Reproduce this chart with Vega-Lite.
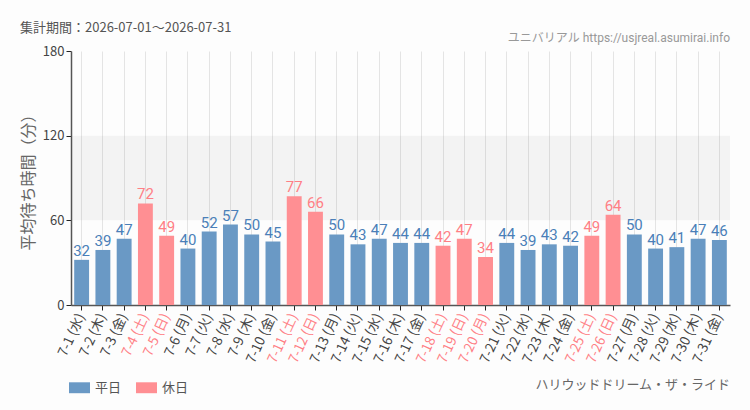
{
  "$schema": "https://vega.github.io/schema/vega-lite/v6.json",
  "autosize": {"type": "none"},
  "padding": {"left": 71, "top": 51, "right": 20, "bottom": 105},
  "width": 659,
  "height": 254,
  "background": "#fdfdfd",
  "config": {
    "font": "Noto Sans CJK JP",
    "view": {"stroke": null}
  },
  "title": {
    "text": "集計期間：2026-07-01～2026-07-31",
    "anchor": "start",
    "frame": "group",
    "dx": -51,
    "dy": 17,
    "offset": 14,
    "fontSize": 13,
    "fontWeight": "normal",
    "color": "#555555"
  },
  "data": {
    "values": [
      {"day": "7-1 (水)", "wait": 32, "kind": "平日"},
      {"day": "7-2 (木)", "wait": 39, "kind": "平日"},
      {"day": "7-3 (金)", "wait": 47, "kind": "平日"},
      {"day": "7-4 (土)", "wait": 72, "kind": "休日"},
      {"day": "7-5 (日)", "wait": 49, "kind": "休日"},
      {"day": "7-6 (月)", "wait": 40, "kind": "平日"},
      {"day": "7-7 (火)", "wait": 52, "kind": "平日"},
      {"day": "7-8 (水)", "wait": 57, "kind": "平日"},
      {"day": "7-9 (木)", "wait": 50, "kind": "平日"},
      {"day": "7-10 (金)", "wait": 45, "kind": "平日"},
      {"day": "7-11 (土)", "wait": 77, "kind": "休日"},
      {"day": "7-12 (日)", "wait": 66, "kind": "休日"},
      {"day": "7-13 (月)", "wait": 50, "kind": "平日"},
      {"day": "7-14 (火)", "wait": 43, "kind": "平日"},
      {"day": "7-15 (水)", "wait": 47, "kind": "平日"},
      {"day": "7-16 (木)", "wait": 44, "kind": "平日"},
      {"day": "7-17 (金)", "wait": 44, "kind": "平日"},
      {"day": "7-18 (土)", "wait": 42, "kind": "休日"},
      {"day": "7-19 (日)", "wait": 47, "kind": "休日"},
      {"day": "7-20 (月)", "wait": 34, "kind": "休日"},
      {"day": "7-21 (火)", "wait": 44, "kind": "平日"},
      {"day": "7-22 (水)", "wait": 39, "kind": "平日"},
      {"day": "7-23 (木)", "wait": 43, "kind": "平日"},
      {"day": "7-24 (金)", "wait": 42, "kind": "平日"},
      {"day": "7-25 (土)", "wait": 49, "kind": "休日"},
      {"day": "7-26 (日)", "wait": 64, "kind": "休日"},
      {"day": "7-27 (月)", "wait": 50, "kind": "平日"},
      {"day": "7-28 (火)", "wait": 40, "kind": "平日"},
      {"day": "7-29 (水)", "wait": 41, "kind": "平日"},
      {"day": "7-30 (木)", "wait": 47, "kind": "平日"},
      {"day": "7-31 (金)", "wait": 46, "kind": "平日"}
    ]
  },
  "layer": [
    {
      "mark": {"type": "rect", "color": "#000000", "opacity": 0.04},
      "encoding": {
        "y": {"datum": 60, "type": "quantitative", "scale": {"domain": [0, 180]}},
        "y2": {"datum": 120}
      },
      "data": {"values": [{}]}
    },
    {
      "mark": {"type": "bar"},
      "encoding": {
        "x": {
          "field": "day",
          "type": "nominal",
          "sort": null,
          "scale": {"paddingInner": 0.3, "paddingOuter": 0.15},
          "axis": {
            "title": null,
            "labelAngle": -65,
            "labelFontSize": 13.5,
            "labelPadding": 4,
            "labelColor": {
              "condition": {"test": "indexof(['7-4 (土)','7-5 (日)','7-11 (土)','7-12 (日)','7-18 (土)','7-19 (日)','7-20 (月)','7-25 (土)','7-26 (日)'], datum.value) >= 0", "value": "#ff7f85"},
              "value": "#444444"
            },
            "tickColor": "#222222",
            "tickSize": 5,
            "domainColor": "#555555",
            "domainWidth": 1.5,
            "grid": true,
            "gridColor": "#e4e4e4"
          }
        },
        "y": {
          "field": "wait",
          "type": "quantitative",
          "scale": {"domain": [0, 180]},
          "axis": {
            "title": "平均待ち時間（分）",
            "titleFontSize": 16,
            "titleFontWeight": "normal",
            "titleColor": "#666666",
            "titlePadding": 6,
            "values": [0, 60, 120, 180],
            "labelFontSize": 13,
            "labelColor": "#444444",
            "tickColor": "#222222",
            "tickSize": 5,
            "domainColor": "#555555",
            "domainWidth": 1.5,
            "gridColor": "#e4e4e4"
          }
        },
        "color": {
          "field": "kind",
          "type": "nominal",
          "scale": {"domain": ["平日", "休日"], "range": ["#6a99c5", "#ff8f93"]},
          "legend": {
            "title": null,
            "orient": "none",
            "direction": "horizontal",
            "legendX": -2,
            "legendY": 326,
            "symbolType": "M-1,-0.52H1V0.52H-1Z",
            "symbolSize": 441,
            "symbolStrokeWidth": 0,
            "symbolOpacity": 1,
            "labelFontSize": 13,
            "labelColor": "#555555",
            "columnPadding": 14,
            "labelOffset": 5
          }
        }
      }
    },
    {
      "mark": {"type": "text", "baseline": "bottom", "dy": -1, "fontSize": 15, "font": "Roboto"},
      "encoding": {
        "x": {"field": "day", "type": "nominal", "sort": null},
        "y": {"field": "wait", "type": "quantitative"},
        "text": {"field": "wait", "type": "quantitative"},
        "color": {
          "condition": {"test": "datum.kind == '休日'", "value": "#ff7f85"},
          "value": "#4a7fb8"
        }
      }
    },
    {
      "data": {"values": [{"t": "ユニバリアル  https://usjreal.asumirai.info"}]},
      "mark": {"type": "text", "align": "right", "baseline": "bottom", "x": {"expr": "width"}, "y": -6, "fontSize": 12, "color": "#999999", "font": "Roboto, Noto Sans CJK JP"},
      "encoding": {"text": {"field": "t", "type": "nominal"}}
    },
    {
      "data": {"values": [{"t": "ハリウッドドリーム・ザ・ライド"}]},
      "mark": {"type": "text", "align": "right", "baseline": "middle", "x": {"expr": "width"}, "y": {"expr": "height + 80"}, "fontSize": 13, "color": "#666666", "font": "Noto Sans CJK JP"},
      "encoding": {"text": {"field": "t", "type": "nominal"}}
    }
  ]
}
